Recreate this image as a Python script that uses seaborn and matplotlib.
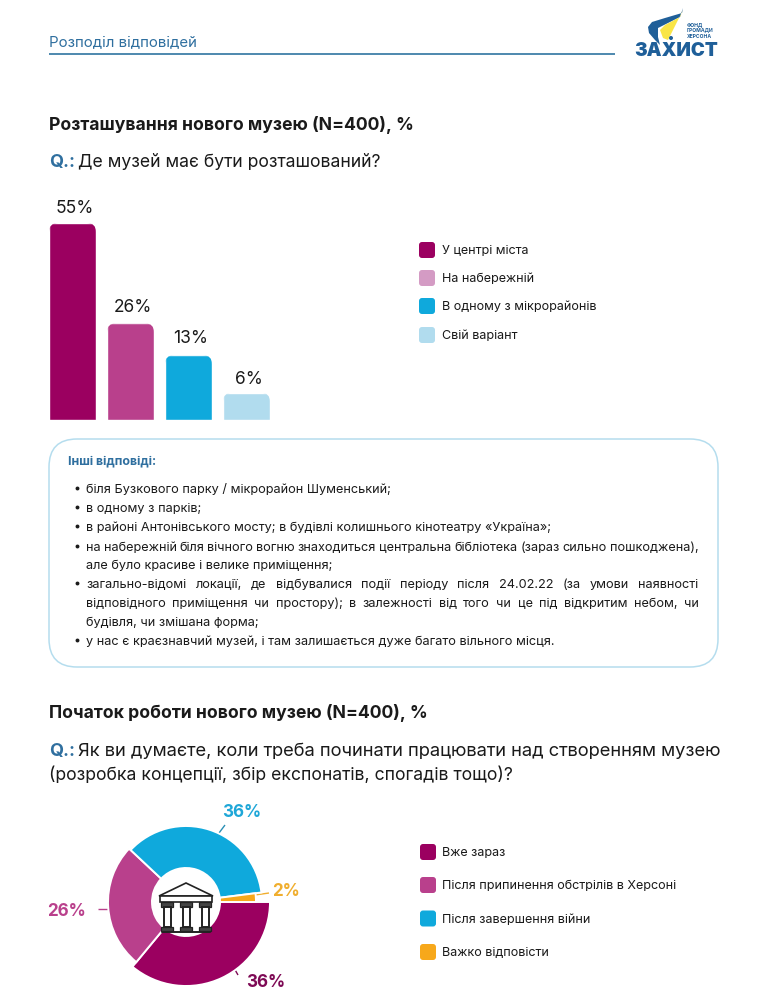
import matplotlib
matplotlib.use("Agg")
import matplotlib.pyplot as plt
import seaborn as sns
import pandas as pd
from matplotlib.patches import FancyBboxPatch, Polygon, Circle, Rectangle

# ---- data ----
bar_categories = ["У центрі міста", "На набережній", "В одному з мікрорайонів", "Свій варіант"]
bar_labels = ["55%", "26%", "13%", "6%"]
# drawn bar heights (the source bars are not strictly proportional)
bar_heights = [55.0, 27.0, 18.1, 7.6]
bar_colors = ["#9B0060", "#B9408C", "#0FA9DC", "#B1DCEE"]
legend1_colors = ["#9B0060", "#D49BC4", "#0FA9DC", "#B1DCEE"]

donut_categories = ["Вже зараз", "Після припинення обстрілів в Херсоні", "Після завершення війни", "Важко відповісти"]
donut_values = [36, 26, 36, 2]
donut_labels = ["36%", "26%", "36%", "2%"]
donut_colors = ["#9B0060", "#B9408C", "#0FA9DC", "#F7A81B"]
donut_radii = [84, 78, 76, 70]

other_lines = [
    (True, False, "біля Бузкового парку / мікрорайон Шуменський;"),
    (False, False, "в одному з парків;"),
    (False, False, "в районі Антонівського мосту; в будівлі колишнього кінотеатру «Україна»;"),
    (False, True, "на набережній біля вічного вогню знаходиться центральна бібліотека (зараз сильно пошкоджена),"),
    (None, False, "але було красиве і велике приміщення;"),
    (False, True, "загально-відомі локації, де відбувалися події періоду після 24.02.22 (за умови наявності"),
    (None, True, "відповідного приміщення чи простору); в залежності від того чи це під відкритим небом, чи"),
    (None, False, "будівля, чи змішана форма;"),
    (False, False, "у нас є краєзнавчий музей, і там залишається дуже багато вільного місця."),
]
other_y = [488, 507, 526, 546, 564, 583, 602, 621, 640]

# ---- page ----
W, H = 768, 997
sns.set_theme(style="white")
FONT = "Inter"
plt.rcParams["font.family"] = [FONT, "DejaVu Sans"]
DARK = "#1A1A1A"
BLUE = "#2F6F9F"
LOGO = "#1F5F99"
fig = plt.figure(figsize=(W / 100, H / 100), dpi=100, facecolor="white")


def px_axes(x0, y0, x1, y1, **kw):
    return fig.add_axes([x0 / W, 1 - y1 / H, (x1 - x0) / W, (y1 - y0) / H], **kw)


page = px_axes(0, 0, W, H)
page.set_xlim(0, W)
page.set_ylim(H, 0)
page.axis("off")


def T(x, y, s, px, color=DARK, weight="normal", ha="left", ax=page):
    return ax.text(x, y, s, fontsize=px * 0.72, color=color, fontweight=weight,
                   ha=ha, va="center_baseline")


# header
T(49, 40.5, "Розподіл відповідей", 15, BLUE)
page.plot([49, 615], [54, 54], color="#3F7FA8", lw=1.3, solid_capstyle="butt")

# logo
page.add_patch(Polygon([(683, 8), (682, 13), (665, 18), (652, 22), (648, 27), (649, 33), (655, 40), (660, 45),
                        (658, 37), (658, 28), (668, 23), (680, 17)], closed=True, fc=LOGO, ec="none"))
page.add_patch(Polygon([(683, 10), (678, 20), (673, 30), (668, 40), (663, 38), (660, 30), (665, 25), (680, 17)],
                       closed=True, fc="#F9E547", ec="none"))
page.add_patch(Circle((671, 38), 2.0, fc=LOGO, ec="none"))
T(634, 49, "ЗАХИСТ", 18.8, LOGO, "black")
for y, s in zip([24.5, 30, 36], ["ФОНД", "ГРОМАДИ", "ХЕРСОНА"]):
    T(687, y, s, 5.0, LOGO, "bold")

# section 1 titles
T(49, 123, "Розташування нового музею (N=400), %", 17.6, DARK, "bold")
T(49, 161, "Q.:", 18, BLUE, "bold")
T(78, 161, "Де музей має бути розташований?", 17.6)

# bars
df = pd.DataFrame({"category": bar_categories, "value": bar_heights})
axb = px_axes(49, 223, 270, 420)
axb.patch.set_alpha(0)
sns.barplot(data=df, x="category", y="value", hue="category", palette=bar_colors,
            legend=False, width=0.81, saturation=1, ax=axb)
axb.set_xlim(-0.405, 3.405)
axb.set_ylim(0, 55)
axb.axis("off")
label_offsets = [17, 18, 19, 15]
for bar, lab, off in zip(axb.patches, bar_labels, label_offsets):
    x, w, h = bar.get_x(), bar.get_width(), bar.get_height()
    # rounded top corners: round in pixel space, extend far below the baseline so the bottom stays square
    p0 = axb.transData.transform((x, h))
    p1 = axb.transData.transform((x + w, h))
    r = 9
    box = FancyBboxPatch((p0[0] + r, p0[1] - 500 - r), (p1[0] - p0[0]) - 2 * r, 500,
                         boxstyle=f"round,pad={r},rounding_size={r}", transform=None)
    bar.set_clip_path(box)
    axb.annotate(lab, (x + w / 2, h), xytext=(2, off), textcoords="offset pixels",
                 ha="center", va="center_baseline", fontsize=17.4 * 0.72, color=DARK, annotation_clip=False)


def swatch(x, yc, color, s=16):
    page.add_patch(FancyBboxPatch((x + 2, yc - s / 2 + 2), s - 4, s - 4,
                                  boxstyle="round,pad=2,rounding_size=3", fc=color, ec="none"))


for y, c, s in zip([250, 278, 306, 335], legend1_colors, bar_categories):
    swatch(419, y, c)
    T(442, y - 0.5, s, 12.6)

# panel
page.add_patch(FancyBboxPatch((49 + 28, 439 + 28), 669 - 56, 228 - 56,
                              boxstyle="round,pad=28,rounding_size=28", fc="white",
                              ec="#B5DDEE", lw=1.1))
T(68, 460, "Інші відповіді:", 12.4, BLUE, "bold")

renderer = fig.canvas.get_renderer()
TXT_L, TXT_R = 86, 698.5
for (first, justified, line), y in zip(other_lines, other_y):
    if first is not None:
        page.plot([77], [y], marker="o", ms=2.8, mew=0, color=DARK, ls="none")
    if not justified:
        T(TXT_L, y, line, 12.7)
    else:
        words = line.split(" ")
        arts = [T(TXT_L, y, w, 12.7) for w in words]
        widths = [a.get_window_extent(renderer).width for a in arts]
        gap = (TXT_R - TXT_L - sum(widths)) / (len(words) - 1)
        cur = TXT_L
        for a, wd in zip(arts, widths):
            a.set_x(cur)
            cur += wd + gap

# section 2 titles
T(49, 711, "Початок роботи нового музею (N=400), %", 17.6, DARK, "bold")
T(49, 749, "Q.:", 18, BLUE, "bold")
T(78, 749, "Як ви думаєте, коли треба починати працювати над створенням музею", 18.3)
T(49, 773, "(розробка концепції, збір експонатів, спогадів тощо)?", 17.6)

# donut (axes spans centre 186,902 with 100 px half-size: data unit = pixel)
cx, cy, hs = 186, 902, 100
axd = px_axes(cx - hs, cy - hs, cx + hs, cy + hs)
axd.patch.set_alpha(0)
wedges, _ = axd.pie(donut_values, colors=donut_colors, startangle=0, counterclock=False,
                    radius=1, wedgeprops=dict(edgecolor="white", linewidth=1.4))
axd.set_xlim(-hs, hs)
axd.set_ylim(-hs, hs)
axd.set_aspect("equal")
for w, r in zip(wedges, donut_radii):
    w.set_center((0, 0))
    w.set_radius(r)
    w.set_width(r - 34)

# donut labels and leaders
for (x, y, lab, col) in [(266, 980, donut_labels[0], "#7E0A55"), (67, 909, donut_labels[1], "#B9408C"),
                         (242, 810, donut_labels[2], "#1FA7D8"), (286, 889, donut_labels[3], "#F0AE2E")]:
    T(x, y, lab, 17, col, "bold", ha="center")
for xs, ys, col in [([234, 238], [968, 975], "#7E0A55"), ([98, 108], [909, 909], "#B9408C"),
                    ([219, 225], [833, 825], "#2A8FB5"), ([255, 269], [895, 893], "#F0AE2E")]:
    page.plot(xs, ys, color=col, lw=1, solid_capstyle="butt")

# building icon (drawn on a top layer)
top = px_axes(0, 0, W, H)
top.set_xlim(0, W)
top.set_ylim(H, 0)
top.axis("off")
top.patch.set_alpha(0)
IC = "#222222"
top.add_patch(Polygon([(159, 896), (186, 883), (213, 896)], closed=True, fc="white", ec=IC, lw=1.2))
top.add_patch(Rectangle((160, 896), 52, 6, fc="white", ec=IC, lw=1.2))
for x in [167, 186, 205]:
    top.add_patch(Rectangle((x - 6, 902), 12, 5, fc="#444444", ec=IC, lw=0.9))
    top.add_patch(Rectangle((x - 3.5, 907), 7, 20, fc="white", ec=IC, lw=1.4))
    top.add_patch(Rectangle((x - 6, 927), 12, 4, fc="#444444", ec=IC, lw=0.9))
top.plot([162, 210], [932, 932], color=IC, lw=1.4)

for y, c, s in zip([852, 885, 918.5, 952], donut_colors, donut_categories):
    swatch(420, y, c)
    T(442, y - 0.5, s, 12.6)

fig.savefig("out.png", dpi=100, facecolor="white")
